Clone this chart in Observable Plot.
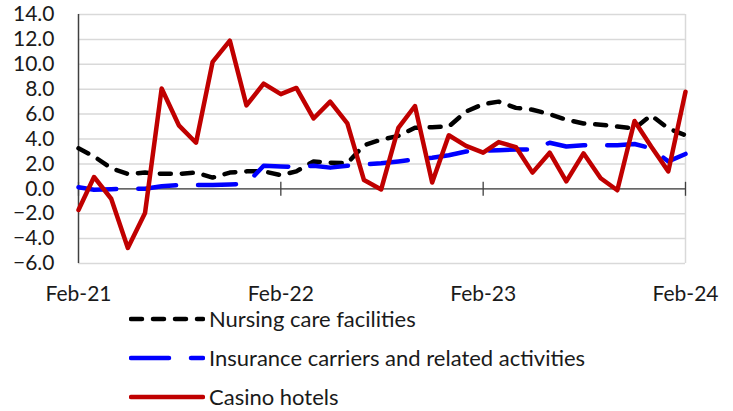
<!DOCTYPE html>
<html>
<head>
<meta charset="utf-8">
<script src="https://cdn.jsdelivr.net/npm/d3@7"></script>
<script src="https://cdn.jsdelivr.net/npm/@observablehq/plot@0.6"></script>
<style>
  html, body { margin: 0; padding: 0; background: #fff; }
  body { width: 733px; height: 411px; overflow: hidden; font-family: Lato, "DejaVu Sans", sans-serif; }
  #legend { position: relative; margin: -11px 0 0 0; padding: 0; }
  .row { height: 39px; display: flex; align-items: center; padding-left: 129px; font-size: 22px; color: #1a1a1a; }
  .row svg { display: block; margin-right: 4px; }
</style>
</head>
<body>
<div id="chart"></div>
<div id="legend"></div>
<script>
// ---- data ----
const months = [
  "2021-02","2021-03","2021-04","2021-05","2021-06","2021-07","2021-08","2021-09","2021-10","2021-11","2021-12","2022-01",
  "2022-02","2022-03","2022-04","2022-05","2022-06","2022-07","2022-08","2022-09","2022-10","2022-11","2022-12","2023-01",
  "2023-02","2023-03","2023-04","2023-05","2023-06","2023-07","2023-08","2023-09","2023-10","2023-11","2023-12","2024-01",
  "2024-02"
];
const seriesNames = ["Nursing care facilities", "Insurance carriers and related activities", "Casino hotels"];
const nursing = [
  3.25, 2.6, 1.65, 1.2, 1.3, 1.2, 1.2, 1.3, 0.9, 1.3, 1.4, 1.4,
  1.1, 1.4, 2.2, 2.1, 2.05, 3.5, 3.95, 4.25, 4.9, 4.95, 5.0, 6.2,
  6.8, 7.0, 6.5, 6.35, 6.0, 5.55, 5.25, 5.15, 5.0, 4.85, 5.9, 4.85,
  4.3
];
const insurance = [
  0.13, -0.08, -0.03, 0.0, 0.0, 0.2, 0.3, 0.3, 0.3, 0.35, 0.4, 1.85,
  1.8, 1.75, 1.85, 1.7, 1.85, 1.95, 2.05, 2.2, 2.35, 2.5, 2.7, 3.0,
  3.05, 3.1, 3.15, 3.15, 3.7, 3.4, 3.5, 3.5, 3.5, 3.6, 3.25, 2.2,
  2.8
];
const casino = [
  -1.7, 0.95, -0.8, -4.75, -1.95, 8.05, 5.1, 3.7, 10.2, 11.9, 6.7, 8.45,
  7.6, 8.1, 5.65, 7.0, 5.25, 0.7, -0.05, 4.9, 6.65, 0.5, 4.3, 3.45,
  2.9, 3.75, 3.35, 1.3, 2.9, 0.6, 2.85, 0.85, -0.12, 5.45, 3.4, 1.4,
  7.8
];
const xTickLabels = ["Feb-21", "Feb-22", "Feb-23", "Feb-24"];
const xTickMonths = ["2021-02", "2022-02", "2023-02", "2024-02"];
const yTicks = [-6, -4, -2, 0, 2, 4, 6, 8, 10, 12, 14];

// ---- build table ----
const parse = d3.utcParse("%Y-%m");
const dates = months.map(parse);
const xTicks = xTickMonths.map(parse);
const styles = {
  "Nursing care facilities": { stroke: "#000000", dash: "11,11" },
  "Insurance carriers and related activities": { stroke: "#0000ff", dash: "38,22" },
  "Casino hotels": { stroke: "#c00000", dash: null }
};
const valuesBy = [nursing, insurance, casino];
const rows = [];
seriesNames.forEach((name, k) => {
  dates.forEach((d, i) => rows.push({ series: name, date: d, value: valuesBy[k][i] }));
});

const tickSymbol = { draw(context) { context.moveTo(0, -7); context.lineTo(0, 7); } };

const lineMarks = seriesNames.map(name => Plot.line(rows.filter(r => r.series === name), {
  x: "date", y: "value",
  stroke: styles[name].stroke,
  strokeWidth: 4.5,
  strokeDasharray: styles[name].dash,
  strokeLinecap: "round",
  strokeLinejoin: "round"
}));

const chart = Plot.plot({
  width: 733,
  height: 310,
  marginLeft: 78,
  marginRight: 48,
  marginTop: 14,
  marginBottom: 47,
  style: { fontFamily: "Lato, 'DejaVu Sans', sans-serif", fontSize: "21px", color: "#1a1a1a", background: "#fff" },
  x: { type: "utc", domain: [dates[0], dates[dates.length - 1]] },
  y: { domain: [-6, 14] },
  marks: [
    Plot.ruleY(yTicks, { stroke: "#d9d9d9", strokeWidth: 1.5 }),
    Plot.ruleX([dates[dates.length - 1]], { stroke: "#d9d9d9", strokeWidth: 1.5 }),
    Plot.ruleX([dates[0]], { stroke: "#404040", strokeWidth: 1.5 }),
    Plot.ruleY([0], { stroke: "#404040", strokeWidth: 1.3 }),
    Plot.dot(xTicks, { x: d => d, y: 0, symbol: tickSymbol, stroke: "#404040", strokeWidth: 1.3, fill: "none" }),
    Plot.axisY(yTicks, { tickSize: 0, tickPadding: 24, tickFormat: d3.format(".1f"), label: null, fontSize: 21 }),
    Plot.axisX(xTicks, { tickSize: 0, tickPadding: 23, tickFormat: (d, i) => xTickLabels[i], label: null, fontSize: 21 }),
    ...lineMarks
  ]
});
document.getElementById("chart").appendChild(chart);

// ---- legend ----
const legend = document.getElementById("legend");
seriesNames.forEach(name => {
  const row = document.createElement("div");
  row.className = "row";
  const s = styles[name];
  row.innerHTML = `<svg width="76" height="10"><line x1="2" y1="5" x2="74" y2="5" stroke="${s.stroke}" stroke-width="4.5" stroke-linecap="round" ${s.dash ? `stroke-dasharray="${s.dash}"` : ""}/></svg><span>${name}</span>`;
  legend.appendChild(row);
});
</script>
</body>
</html>
